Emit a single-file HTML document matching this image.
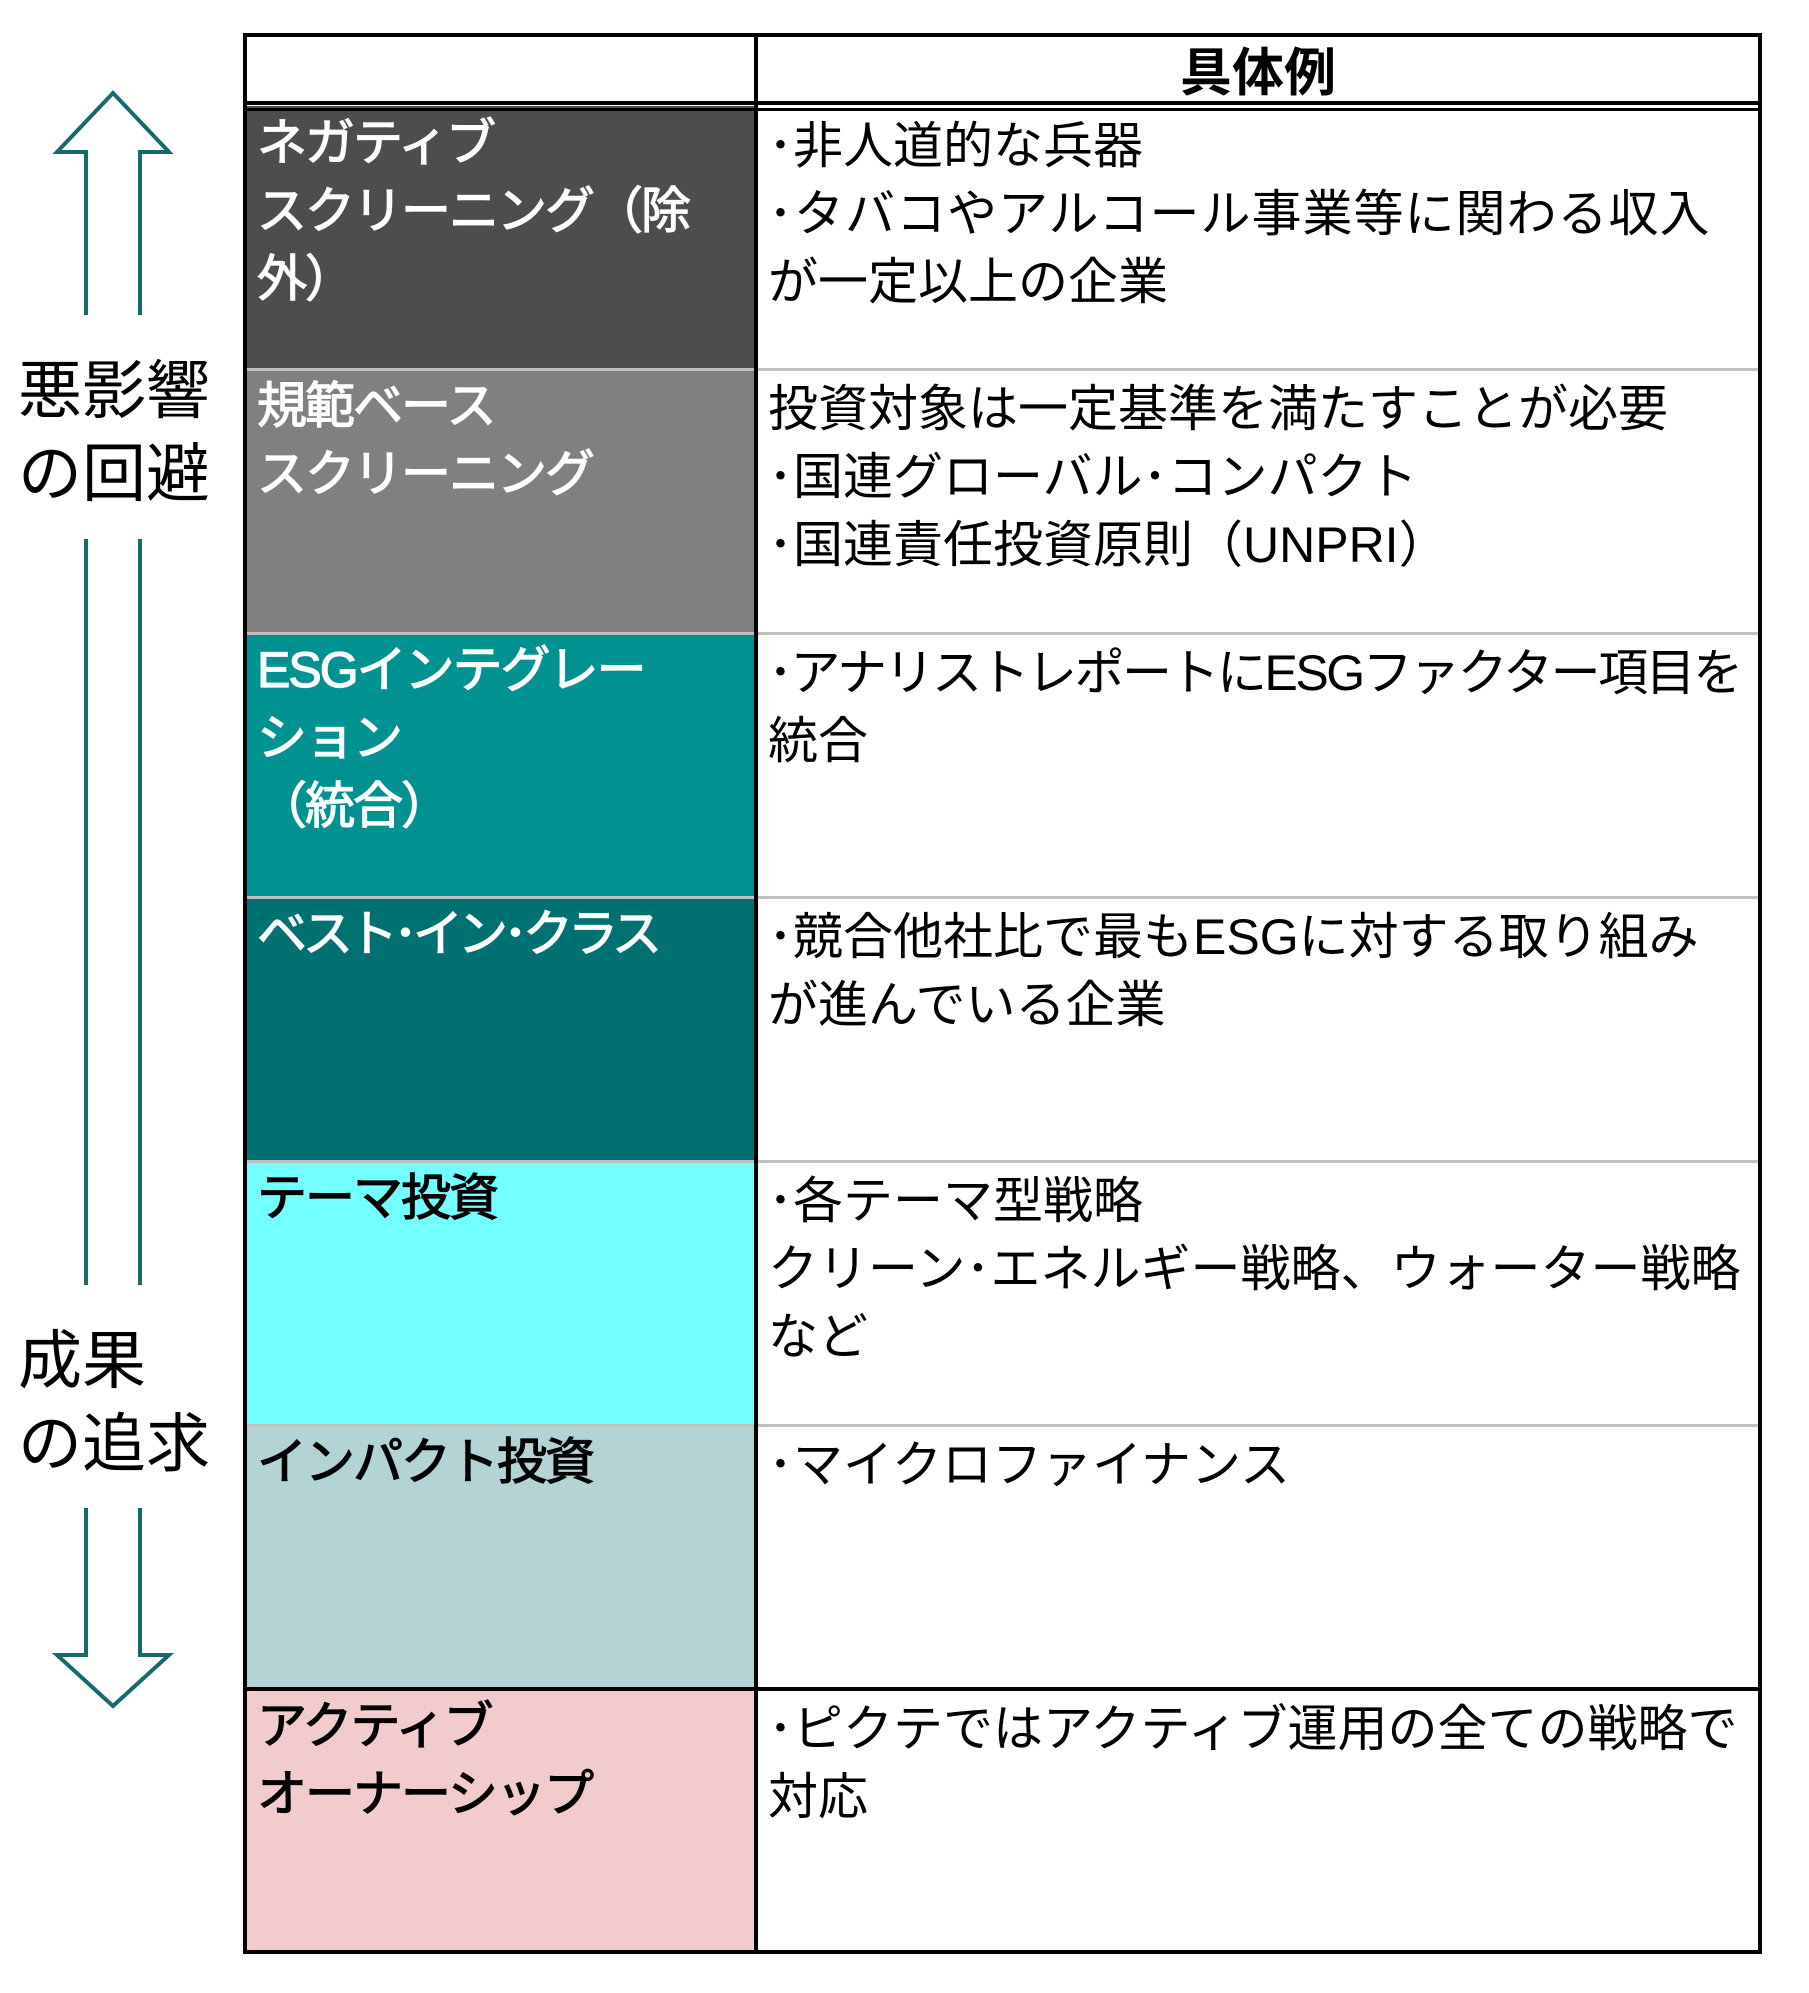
<!DOCTYPE html>
<html><head><meta charset="utf-8"><style>
html,body{margin:0;padding:0;background:#fff;}
body{width:1809px;height:1993px;position:relative;overflow:hidden;font-family:"Liberation Sans","Noto Sans CJK JP",sans-serif;}
.cell{position:absolute;box-sizing:border-box;}
.t{position:absolute;font-size:50px;line-height:68px;white-space:nowrap;}
.l{left:257px;font-weight:normal;letter-spacing:-2px;-webkit-text-stroke:1.2px currentColor;}
.r{left:768px;color:#000;}
.w{color:#fff;}
.hl{position:absolute;left:244px;width:1516px;height:3px;background:#c0c0c0;}
.lab{position:absolute;left:18px;font-size:64px;line-height:83px;white-space:nowrap;}
</style></head><body>
<div class="cell" style="left:244px;top:106px;width:512px;height:263px;background:#4d4d4d"></div>
<div class="cell" style="left:244px;top:369px;width:512px;height:264px;background:#808080"></div>
<div class="cell" style="left:244px;top:633px;width:512px;height:264px;background:#009191"></div>
<div class="cell" style="left:244px;top:897px;width:512px;height:264px;background:#007171"></div>
<div class="cell" style="left:244px;top:1161px;width:512px;height:264px;background:#73ffff"></div>
<div class="cell" style="left:244px;top:1425px;width:512px;height:264px;background:#b3d3d5"></div>
<div class="cell" style="left:244px;top:1689px;width:512px;height:263px;background:#f2cccd"></div>
<div class="hl" style="top:368px"></div>
<div class="hl" style="top:632px"></div>
<div class="hl" style="top:896px"></div>
<div class="hl" style="top:1160px"></div>
<div class="hl" style="top:1424px"></div>
<div style="position:absolute;left:244px;width:1516px;top:1687px;height:4px;background:#000"></div>
<div style="position:absolute;left:244px;width:1516px;top:101px;height:4px;background:#000"></div>
<div style="position:absolute;left:244px;width:1516px;top:108px;height:3px;background:#000"></div>
<div style="position:absolute;left:243px;top:33px;width:1519px;height:1921px;box-sizing:border-box;border:4px solid #000"></div>
<div style="position:absolute;left:754px;top:33px;width:4px;height:1921px;background:#000"></div>
<div class="t" style="left:1180px;top:40px;font-weight:bold;font-size:52px;">具体例</div>
<div class="t l w" style="top:109px">ネガティブ<br>スクリーニング（除<br>外）</div>
<div class="t l w" style="top:372px">規範ベース<br>スクリーニング</div>
<div class="t l w" style="top:636px">ESGインテグレー<br>ション<br>（統合）</div>
<div class="t l w" style="top:900px;letter-spacing:-5px">ベスト･イン･クラス</div>
<div class="t l" style="top:1164px">テーマ投資</div>
<div class="t l" style="top:1428px">インパクト投資</div>
<div class="t l" style="top:1692px">アクティブ<br>オーナーシップ</div>
<div class="t r" style="top:112px">･非人道的な兵器<br><span style="letter-spacing:1px">･タバコやアルコール事業等に関わる収入</span><br>が一定以上の企業</div>
<div class="t r" style="top:375px">投資対象は一定基準を満たすことが必要<br>･国連グローバル･コンパクト<br>･国連責任投資原則（UNPRI）</div>
<div class="t r" style="top:639px"><span style="letter-spacing:-2.5px">･アナリストレポートにESGファクター項目を</span><br>統合</div>
<div class="t r" style="top:903px">･競合他社比で最もESGに対する取り組み<br>が進んでいる企業</div>
<div class="t r" style="top:1167px">･各テーマ型戦略<br>クリーン･エネルギー戦略、ウォーター戦略<br>など</div>
<div class="t r" style="top:1431px">･マイクロファイナンス</div>
<div class="t r" style="top:1695px">･ピクテではアクティブ運用の全ての戦略で<br>対応</div>
<svg width="200" height="1993" style="position:absolute;left:0;top:0" fill="none" stroke="#17696a" stroke-width="4">
<polyline points="86,315 86,152 57,152 113,93 169,152 140,152 140,315"/>
<line x1="86" y1="539" x2="86" y2="1285"/>
<line x1="140" y1="539" x2="140" y2="1285"/>
<polyline points="86,1508 86,1655 57,1655 113,1706 169,1655 140,1655 140,1508"/>
</svg>
<div class="lab" style="top:350px">悪影響<br>の回避</div>
<div class="lab" style="top:1320px">成果<br>の追求</div>
</body></html>
